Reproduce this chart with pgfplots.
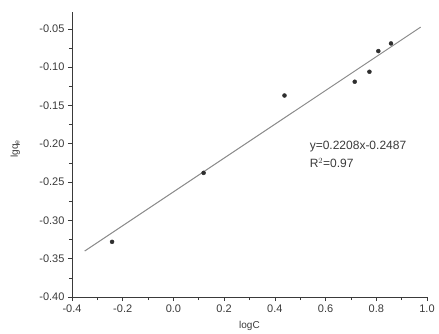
\documentclass[border=0pt]{standalone}
\usepackage{fontspec}
\setmainfont{Liberation Sans}
\usepackage{pgfplots}
\pgfplotsset{compat=1.18}
\definecolor{axgray}{HTML}{3A3A3A}
\definecolor{fitgray}{HTML}{8C8C8C}
\definecolor{ptgray}{HTML}{2E2E2E}
\begin{document}
\begin{tikzpicture}
\useasboundingbox (-72pt,-36pt) rectangle (367pt,297pt);
\begin{axis}[
  at={(0,0)}, anchor=south west,
  scale only axis,
  width=355pt, height=285pt,
  xmin=-0.4, xmax=1.0,
  ymin=-0.40, ymax=-0.028,
  axis lines=left,
  axis line style={-, axgray, line width=0.8pt},
  xtick={-0.4,-0.2,0,0.2,0.4,0.6,0.8,1.0},
  ytick={-0.40,-0.35,-0.30,-0.25,-0.20,-0.15,-0.10,-0.05},
  minor x tick num=1,
  minor y tick num=1,
  tick align=outside,
  major tick length=4pt,
  minor tick length=3pt,
  tick style={axgray, line width=0.7pt},
  /pgf/number format/assume math mode=true,
  xticklabel style={/pgf/number format/.cd, fixed, fixed zerofill, precision=1},
  yticklabel style={/pgf/number format/.cd, fixed, fixed zerofill, precision=2},
  ticklabel style={font=\fontsize{11}{13}\selectfont, text=axgray},
  xlabel={logC},
  ylabel={lgq$_{\mathrm{e}}$},
  xlabel style={at={(axis description cs:0.5,-0.10)}, anchor=center, font=\fontsize{10}{12}\selectfont, text=axgray},
  ylabel style={at={(axis description cs:-0.16,0.52)}, anchor=center, rotate=0, font=\fontsize{10}{12}\selectfont, text=axgray},
  clip=false,
]
\addplot[fitgray, line width=1pt] coordinates {(-0.35,-0.340) (0.975,-0.0477)};
\addplot[only marks, mark=*, mark size=2pt, ptgray] coordinates {
  (-0.242,-0.328) (0.119,-0.238) (0.438,-0.137) (0.715,-0.119)
  (0.773,-0.106) (0.808,-0.079) (0.858,-0.069)
};
\node[anchor=west, font=\fontsize{12}{14}\selectfont, text=axgray, inner sep=0pt] at (axis cs:0.537,-0.203) {y=0.2208x-0.2487};
\node[anchor=west, font=\fontsize{12}{14}\selectfont, text=axgray, inner sep=0pt] at (axis cs:0.537,-0.225) {R$^2$=0.97};
\end{axis}
\end{tikzpicture}
\end{document}
